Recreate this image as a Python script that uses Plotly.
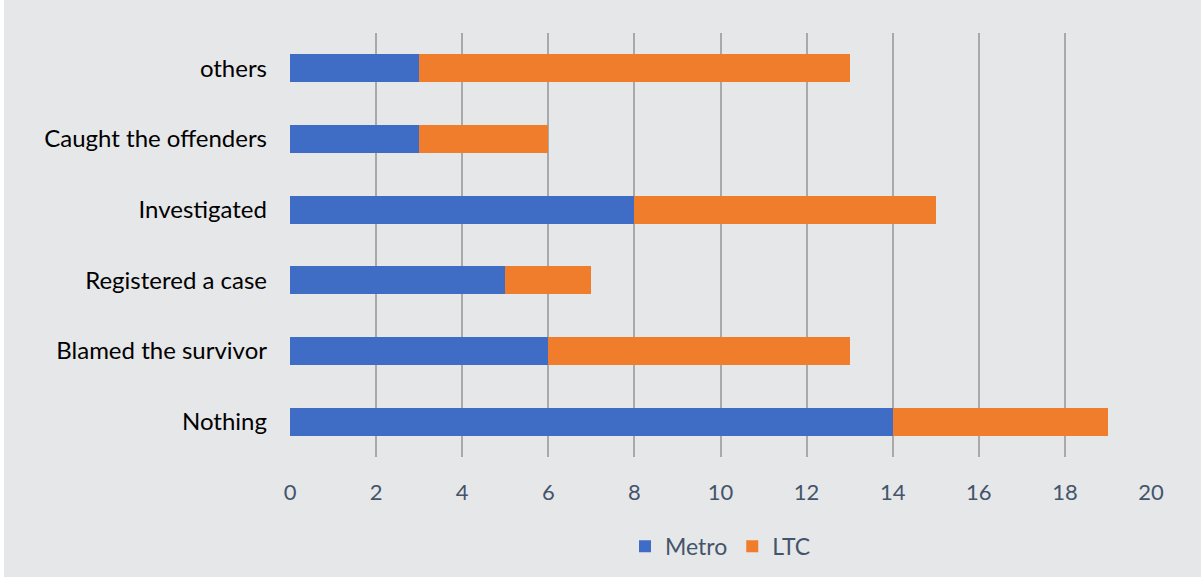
import plotly.graph_objects as go

categories = ["Nothing", "Blamed the survivor", "Registered a case", "Investigated", "Caught the offenders", "others"]
metro = [14, 6, 5, 8, 3, 3]
ltc = [5, 7, 2, 7, 3, 10]
x_ticks = [0, 2, 4, 6, 8, 10, 12, 14, 16, 18, 20]

BG = "#E6E7E9"
fig = go.Figure()
fig.add_trace(go.Bar(y=categories, x=metro, name="Metro", orientation="h",
                     marker=dict(color="#3F6DC6", line=dict(width=0))))
fig.add_trace(go.Bar(y=categories, x=ltc, name="LTC", orientation="h",
                     marker=dict(color="#F07D2C", line=dict(width=0))))

fig.update_layout(
    barmode="stack",
    bargap=0.6,
    width=1201, height=577,
    margin=dict(l=290, r=50, t=33, b=120, autoexpand=False),
    paper_bgcolor=BG,
    plot_bgcolor=BG,
    font=dict(family="Lato, Carlito, sans-serif", size=22, color="#44546A"),
    legend=dict(orientation="h", x=0.5, xanchor="center", y=-0.16, yanchor="top",
                font=dict(size=23, color="#44546A"), itemwidth=30, traceorder="normal"),
    showlegend=True,
    xaxis=dict(range=[0, 20], tickvals=x_ticks, showgrid=True, gridcolor="#A9A9A9",
               gridwidth=2, zeroline=False, showline=False, ticks="", automargin=False,
               ticklabelstandoff=20, tickfont=dict(size=22, color="#44546A"), fixedrange=True),
    yaxis=dict(categoryorder="array", categoryarray=categories, showgrid=False,
               zeroline=False, showline=False, ticks="", ticklabelstandoff=22, automargin=False,
               tickfont=dict(size=24, color="#000000")),
    shapes=[
        dict(type="rect", xref="paper", yref="paper", x0=-290/861, x1=(1201-290)/861,
             y0=(577-120)/424, y1=(577-120+4)/424, fillcolor="white", line=dict(width=0), layer="above"),
        dict(type="rect", xref="paper", yref="paper", x0=-290/861, x1=(-290+4)/861,
             y0=-120/424, y1=(577-120)/424, fillcolor="white", line=dict(width=0), layer="above"),
    ],
)
fig.write_html("out.html")
